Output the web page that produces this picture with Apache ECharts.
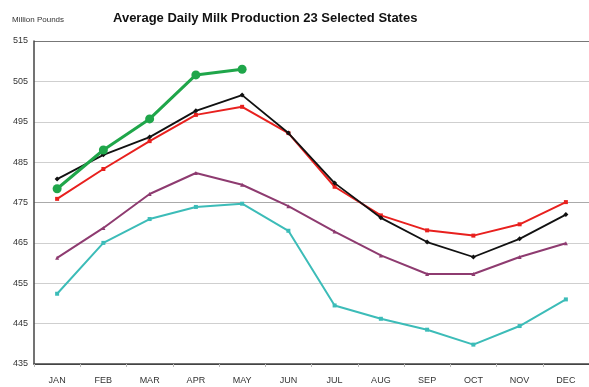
<!DOCTYPE html>
<html>
<head>
<meta charset="utf-8">
<script src="https://cdn.jsdelivr.net/npm/echarts@6/dist/echarts.min.js"></script>
<style>html,body{margin:0;padding:0;background:#fff}#c{width:589px;height:387px}</style>
</head>
<body>
<div id="c"></div>
<script>
const months = ["JAN","FEB","MAR","APR","MAY","JUN","JUL","AUG","SEP","OCT","NOV","DEC"];
const greenVals = [478.4, 488.0, 495.7, 506.6, 508.0];
const blackVals = [480.8, 486.8, 491.2, 497.7, 501.6, 492.2, 479.8, 471.2, 465.2, 461.5, 466.0, 472.0];
const redVals = [475.9, 483.3, 490.2, 496.7, 498.7, 492.2, 478.9, 471.8, 468.1, 466.8, 469.6, 475.1];
const purpleVals = [461.3, 468.7, 477.1, 482.3, 479.4, 474.1, 467.8, 461.9, 457.3, 457.3, 461.5, 464.9];
const tealVals = [452.4, 465.0, 470.9, 473.9, 474.7, 468.0, 449.5, 446.2, 443.5, 439.8, 444.4, 451.0];
const yMin = 435, yMax = 515, yStep = 10;
const titleText = "Average Daily Milk Production 23 Selected States";
const unitText = "Million Pounds";

const chart = echarts.init(document.getElementById('c'));
function line(name, data, color, width, symbol, size, z) {
  return {
    name, type: 'line', data, z,
    lineStyle: {color, width},
    itemStyle: {color},
    symbol, symbolSize: size, showSymbol: true,
    animation: false
  };
}
chart.setOption({
  animation: false,
  title: [{
    text: titleText, left: 108, top: 7,
    textStyle: {fontFamily: 'Liberation Sans', fontSize: 13, fontWeight: 'bold', color: '#111'}
  }, {
    text: unitText, left: 7, top: 11,
    textStyle: {fontFamily: 'Liberation Sans', fontSize: 8, fontWeight: 'normal', color: '#333'}
  }],
  grid: {left: 34, top: 41, bottom: 23, width: 564, containLabel: false},
  xAxis: {
    type: 'category', data: months, boundaryGap: true,
    axisLine: {lineStyle: {color: '#444', width: 1.5}},
    axisTick: {show: true, length: 3, lineStyle: {color: '#bbb'}},
    axisLabel: {fontFamily: 'Liberation Sans', fontSize: 9, color: '#333', margin: 12, interval: 0}
  },
  yAxis: {
    type: 'value', min: yMin, max: yMax, interval: yStep,
    axisLine: {show: true, lineStyle: {color: '#444', width: 1.5}},
    axisTick: {show: false},
    axisLabel: {fontFamily: 'Liberation Sans', fontSize: 9, color: '#333', margin: 6},
    splitLine: {lineStyle: {color: ['#444','#cfcfcf','#cfcfcf','#cfcfcf','#aaa','#cfcfcf','#cfcfcf','#cfcfcf','#777'], width: 1.2}}
  },
  series: [
    line('Teal', tealVals, '#3cbcb8', 2, 'rect', 4, 2),
    line('Purple', purpleVals, '#8e3b70', 2, 'triangle', 4, 2),
    line('Red', redVals, '#e8201e', 2, 'rect', 4, 3),
    line('Black', blackVals, '#111111', 1.8, 'diamond', 5, 4),
    line('Green', greenVals, '#1fa64a', 3, 'circle', 9, 5)
  ]
});
</script>
</body>
</html>
